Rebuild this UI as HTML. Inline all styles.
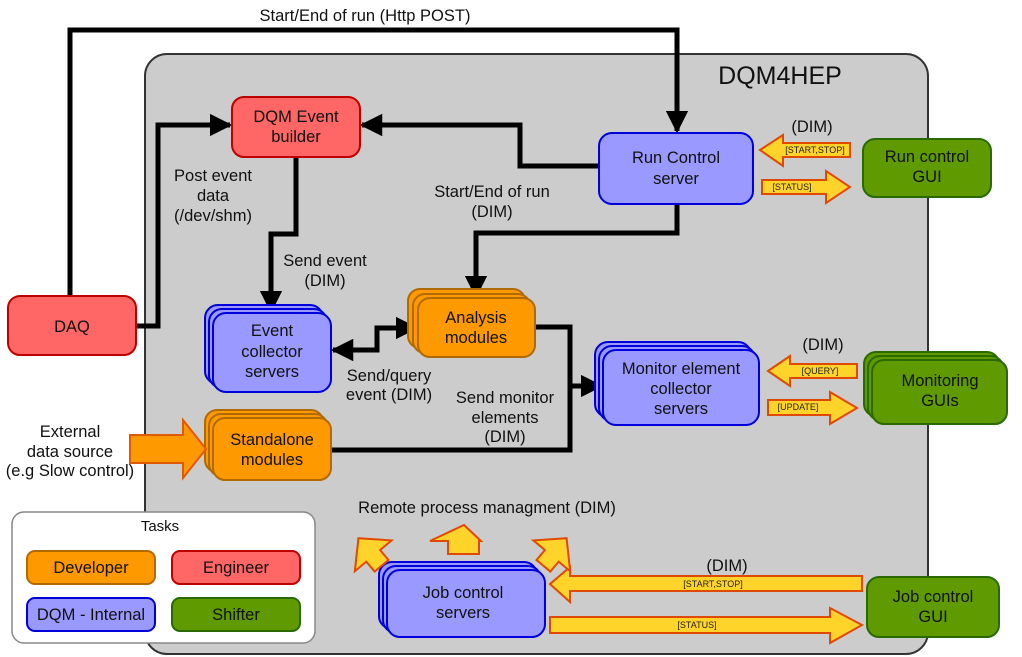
<!DOCTYPE html>
<html><head><meta charset="utf-8"><style>
html,body{margin:0;padding:0;background:#fff;}
svg{display:block;font-family:"Liberation Sans","DejaVu Sans",sans-serif;}
.t{font-size:16.5px;fill:#111;text-anchor:middle;}
.s{font-size:9px;fill:#222;text-anchor:middle;}
.ln{fill:none;stroke:#000;stroke-width:5;}
.ya{fill:#ffd42a;stroke:#e04a00;stroke-width:2;stroke-linejoin:miter;}
.red{fill:#ff6666;stroke:#c00000;stroke-width:2;}
.blue{fill:#9999ff;stroke:#0000dd;stroke-width:2;}
.org{fill:#ff9900;stroke:#b06a00;stroke-width:2;}
.grn{fill:#5f9a00;stroke:#2a6a00;stroke-width:2;}
</style></head><body>
<svg width="1022" height="657" viewBox="0 0 1022 657" xmlns="http://www.w3.org/2000/svg">
<defs>
<marker id="ah" viewBox="0 0 10 10" refX="9" refY="5" markerWidth="4.5" markerHeight="4.5" markerUnits="strokeWidth" orient="auto-start-reverse"><path d="M0,0L10,5L0,10z" fill="#000"/></marker>
</defs>
<rect x="145" y="54" width="783" height="600" rx="22" fill="#cccccc" stroke="#333" stroke-width="2"/>
<text x="780" y="84" style="font-size:25px;fill:#111;text-anchor:middle">DQM4HEP</text>

<path class="ln" d="M70,296V30H677V131" marker-end="url(#ah)"/>
<path class="ln" d="M136,326H158V125H230" marker-end="url(#ah)"/>
<path class="ln" d="M599,166H520V125H362" marker-end="url(#ah)"/>
<path class="ln" d="M296,157V234H271V311" marker-end="url(#ah)"/>
<path class="ln" d="M677,204V233H476V296" marker-end="url(#ah)"/>
<path class="ln" d="M333,350H377V328H416" marker-start="url(#ah)" marker-end="url(#ah)"/>
<path class="ln" d="M535,327H570V386H601" marker-end="url(#ah)"/>
<path class="ln" d="M331,450H570V386"/>

<rect class="red" x="232" y="97" width="128" height="60" rx="12"/>
<text class="t" x="296" y="122">DQM Event</text><text class="t" x="296" y="142">builder</text>
<rect class="blue" x="599" y="133" width="154" height="71" rx="13"/>
<text class="t" x="676" y="163">Run Control</text><text class="t" x="676" y="184">server</text>
<rect class="grn" x="863" y="139" width="128" height="58" rx="12"/>
<text class="t" x="927" y="162">Run control</text><text class="t" x="927" y="182">GUI</text>
<rect class="red" x="8" y="296" width="128" height="59" rx="12"/>
<text class="t" x="72" y="332">DAQ</text>

<rect class="blue" x="205" y="305" width="118" height="79" rx="13"/>
<rect class="blue" x="209" y="309" width="118" height="79" rx="13"/>
<rect class="blue" x="213" y="313" width="118" height="79" rx="13"/>
<text class="t" x="272" y="336">Event</text><text class="t" x="272" y="357">collector</text><text class="t" x="272" y="377">servers</text>

<rect class="org" x="408" y="289" width="117" height="59" rx="12"/>
<rect class="org" x="413" y="294" width="117" height="59" rx="12"/>
<rect class="org" x="418" y="298" width="117" height="59" rx="12"/>
<text class="t" x="476" y="323">Analysis</text><text class="t" x="476" y="343">modules</text>

<rect class="blue" x="595" y="342" width="156" height="75" rx="13"/>
<rect class="blue" x="599" y="346" width="156" height="75" rx="13"/>
<rect class="blue" x="603" y="350" width="156" height="75" rx="13"/>
<text class="t" x="681" y="374">Monitor element</text><text class="t" x="681" y="394">collector</text><text class="t" x="681" y="414">servers</text>

<rect class="grn" x="864" y="352" width="135" height="64" rx="12"/>
<rect class="grn" x="868" y="356" width="135" height="64" rx="12"/>
<rect class="grn" x="872" y="360" width="135" height="64" rx="12"/>
<text class="t" x="940" y="386">Monitoring</text><text class="t" x="940" y="406">GUIs</text>

<rect class="org" x="205" y="410" width="118" height="62" rx="12"/>
<rect class="org" x="209" y="414" width="118" height="62" rx="12"/>
<rect class="org" x="213" y="418" width="118" height="62" rx="12"/>
<text class="t" x="272" y="445">Standalone</text><text class="t" x="272" y="465">modules</text>

<rect class="blue" x="379" y="562" width="158" height="67" rx="13"/>
<rect class="blue" x="383" y="566" width="158" height="67" rx="13"/>
<rect class="blue" x="387" y="570" width="158" height="67" rx="13"/>
<text class="t" x="463" y="598">Job control</text><text class="t" x="463" y="618">servers</text>

<rect class="grn" x="867" y="577" width="132" height="60" rx="12"/>
<text class="t" x="933" y="602">Job control</text><text class="t" x="933" y="622">GUI</text>

<rect x="12" y="512" width="303" height="131" rx="12" fill="#fff" stroke="#888" stroke-width="1.5"/>
<text x="160" y="531" style="font-size:15px;fill:#111;text-anchor:middle">Tasks</text>
<rect class="org" x="27" y="551" width="128" height="33" rx="8"/><text class="t" x="91" y="573">Developer</text>
<rect class="red" x="172" y="551" width="128" height="33" rx="8"/><text class="t" x="236" y="573">Engineer</text>
<rect class="blue" x="27" y="598" width="128" height="33" rx="8"/><text class="t" x="91" y="620">DQM - Internal</text>
<rect class="grn" x="172" y="598" width="128" height="33" rx="8"/><text class="t" x="236" y="620">Shifter</text>

<text class="t" x="365" y="21">Start/End of run (Http POST)</text>
<text class="t" x="213" y="181">Post event</text><text class="t" x="213" y="201">data</text><text class="t" x="213" y="221">(/dev/shm)</text>
<text class="t" x="492" y="197">Start/End of run</text><text class="t" x="492" y="217">(DIM)</text>
<text class="t" x="325" y="266">Send event</text><text class="t" x="325" y="286">(DIM)</text>
<text class="t" x="389" y="381">Send/query</text><text class="t" x="389" y="400">event (DIM)</text>
<text class="t" x="505" y="403">Send monitor</text><text class="t" x="505" y="423">elements</text><text class="t" x="505" y="442">(DIM)</text>
<text class="t" x="70" y="437">External</text><text class="t" x="70" y="457">data source</text><text class="t" x="70" y="476">(e.g Slow control)</text>
<text class="t" x="487" y="513">Remote process managment (DIM)</text>
<text class="t" x="812" y="132">(DIM)</text>
<text class="t" x="823" y="350">(DIM)</text>
<text class="t" x="727" y="571">(DIM)</text>

<path class="ya" d="M760,150L783,135V143H850V157H783V166Z"/><text class="s" x="815" y="153">[START,STOP]</text>
<path class="ya" d="M762,180H826V171L850,187L826,203V194H762Z"/><text class="s" x="792" y="190">[STATUS]</text>
<path class="ya" d="M768,371L790,356V364H857V378H790V386Z"/><text class="s" x="820" y="374">[QUERY]</text>
<path class="ya" d="M768,400H830V392L857,408L830,424V415H768Z"/><text class="s" x="798" y="410">[UPDATE]</text>
<path class="ya" d="M550,584L570,567V576H862V591H570V602Z"/><text class="s" x="713" y="587">[START,STOP]</text>
<path class="ya" d="M550,617H830V608L862,625L830,643V633H550Z"/><text class="s" x="697" y="628">[STATUS]</text>
<path d="M130,435H183V420L206,449L183,478V463H130Z" fill="#ff9900" stroke="#e05a00" stroke-width="2"/>
<path class="ya" d="M448,554V541H430L464,525L481,541H479V554Z"/>
<g transform="rotate(-40 370 552)"><path class="ya" d="M361,570V557H346L370,534L394,557H379V570Z"/></g>
<g transform="rotate(40 555 552)"><path class="ya" d="M546,570V557H531L555,534L579,557H564V570Z"/></g>
</svg>
</body></html>
